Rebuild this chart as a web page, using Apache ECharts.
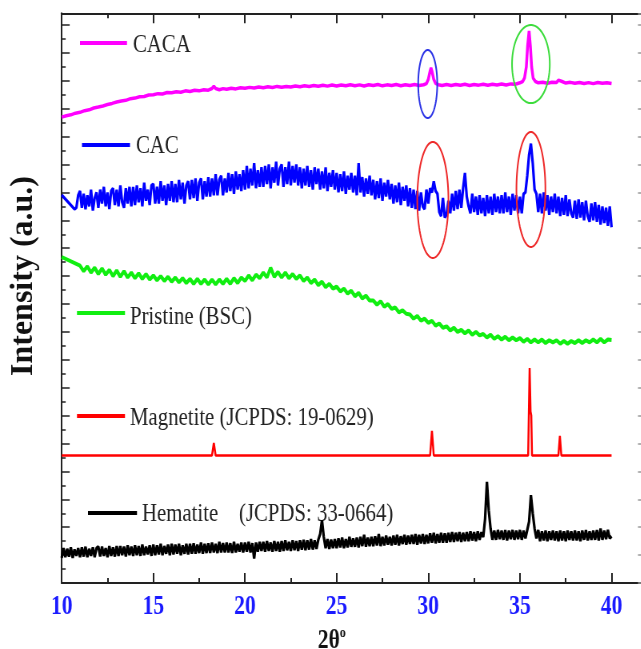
<!DOCTYPE html>
<html>
<head>
<meta charset="utf-8">
<script src="https://cdn.jsdelivr.net/npm/echarts@6/dist/echarts.min.js"></script>
<style>
  html, body { margin: 0; padding: 0; overflow: hidden; background: #fff; }
  /* the canvas is drawn wider and condensed horizontally, giving the narrow serif lettering */
  #chart { width: 802px; height: 649px; transform: scaleX(0.8); transform-origin: 0 0; }
</style>
</head>
<body>
<div id="chart"></div>
<script>
// ---------------- XRD patterns (2θ in degrees, stacked intensity in a.u.) ----------------

// CACA: smooth pattern with reflections near 30.2° and 35.5°
const cacaPoints = [
  [10.0,33.40],[10.25,33.50],[10.5,33.56],[10.75,33.68],[11.0,33.74],[11.25,33.86],[11.5,33.92],[11.75,34.05],
  [12.0,34.12],[12.25,34.20],[12.5,34.30],[12.75,34.38],[13.0,34.48],[13.25,34.55],[13.5,34.60],[13.75,34.72],
  [14.0,34.76],[14.25,34.86],[14.5,34.88],[14.75,34.98],[15.0,35.00],[15.25,35.08],[15.5,35.06],[15.75,35.16],
  [16.0,35.15],[16.25,35.22],[16.5,35.18],[16.75,35.28],[17.0,35.24],[17.25,35.32],[17.5,35.28],[17.75,35.36],
  [18.0,35.33],[18.2,35.45],[18.3,35.62],[18.4,35.45],[18.6,35.36],[18.8,35.44],[19.0,35.40],[19.25,35.47],
  [19.5,35.42],[19.75,35.50],[20.0,35.46],[20.25,35.53],[20.5,35.48],[20.75,35.55],[21.0,35.50],[21.25,35.57],
  [21.5,35.52],[21.75,35.60],[22.0,35.54],[22.25,35.60],[22.5,35.56],[22.75,35.63],[23.0,35.58],[23.25,35.65],
  [23.5,35.60],[23.75,35.66],[24.0,35.61],[24.25,35.68],[24.5,35.62],[24.75,35.70],[25.0,35.63],[25.25,35.70],
  [25.5,35.64],[25.75,35.72],[26.0,35.65],[26.25,35.71],[26.5,35.63],[26.75,35.72],[27.0,35.66],[27.25,35.73],
  [27.5,35.64],[27.75,35.71],[28.0,35.66],[28.25,35.73],[28.5,35.65],[28.75,35.72],[29.0,35.66],[29.25,35.73],
  [29.5,35.66],[29.75,35.72],[29.9,35.80],[30.0,36.10],[30.1,36.70],[30.15,36.92],[30.2,36.70],[30.3,36.10],
  [30.4,35.82],[30.55,35.72],[30.75,35.66],[31.0,35.73],[31.25,35.67],[31.5,35.74],[31.75,35.68],[32.0,35.75],
  [32.25,35.67],[32.5,35.74],[32.75,35.69],[33.0,35.76],[33.25,35.68],[33.5,35.75],[33.75,35.70],[34.0,35.77],
  [34.25,35.70],[34.5,35.78],[34.75,35.75],[35.0,35.86],[35.15,35.95],[35.25,36.20],[35.35,37.00],[35.42,38.50],
  [35.5,39.57],[35.57,38.50],[35.64,37.00],[35.72,36.20],[35.85,35.95],[36.0,35.86],[36.25,35.90],[36.5,35.82],
  [36.75,35.90],[37.0,35.88],[37.1,36.05],[37.18,36.15],[37.3,35.95],[37.5,35.84],[37.75,35.89],[38.0,35.82],
  [38.25,35.88],[38.5,35.81],[38.75,35.87],[39.0,35.80],[39.25,35.88],[39.5,35.82],[39.75,35.86],[40.0,35.80]
];

// CAC: noisy scan, 0.1° step from 10.8°, preceded by its first two readings
const cacLead = [[10.0, 27.81], [10.7, 26.80]];
const cacStart = 10.8;
const cacStep = 0.1;
const cacValues = [
  26.9, 27.8,
  28.1, 26.9, 27.9, 26.8, 27.8, 27.0, 28.2, 26.7, 27.6, 28.0,
  26.9, 28.2, 27.2, 28.4, 27.0, 28.0, 26.8, 28.1, 28.3, 27.1,
  28.2, 27.0, 28.5, 27.3, 26.9, 28.3, 27.2, 28.4, 27.0, 28.4,
  27.1, 28.5, 27.3, 28.3, 27.0, 28.7, 27.4, 28.2, 27.1, 28.5,
  28.6, 27.2, 28.4, 27.2, 28.8, 27.4, 28.5, 27.1, 28.6, 27.4,
  28.8, 27.3, 28.6, 27.3, 28.9, 27.5, 28.7, 27.2, 28.5, 28.8,
  27.5, 28.9, 27.6, 29.0, 27.4, 28.7, 29.0, 27.5, 28.8, 27.7,
  29.1, 27.7, 29.0, 27.8, 29.3, 27.8, 28.9, 29.2, 27.8, 29.0,
  28.0, 29.4, 28.1, 29.3, 27.9, 29.5, 28.2, 29.3, 28.1, 29.6,
  28.2, 29.9, 28.3, 29.7, 28.5, 30.1, 28.3, 29.6, 28.4, 29.8,
  28.4, 29.9, 28.6, 30.0, 28.3, 29.8, 28.7, 30.2, 28.5, 29.7,
  30.0, 28.4, 29.8, 28.6, 30.2, 28.5, 29.9, 28.7, 30.0, 28.5,
  29.8, 28.3, 29.7, 28.5, 29.9, 28.4, 29.6, 28.2, 29.8, 28.6,
  29.7, 28.2, 29.5, 28.3, 29.8, 28.1, 29.4, 28.4, 29.6, 28.2,
  29.4, 28.0, 29.3, 28.1, 29.5, 27.9, 29.2, 28.2, 29.4, 28.0,
  29.2, 27.8, 30.1, 28.0, 29.1, 27.7, 29.0, 27.9, 29.2, 27.8,
  28.9, 27.5, 28.8, 27.6, 29.0, 27.4, 28.7, 27.7, 28.9, 27.5,
  28.6, 27.2, 28.5, 27.3, 28.7, 27.1, 28.4, 27.4, 28.5, 27.0,
  28.3, 26.9, 28.2, 26.8, 28.1, 26.7, 28.0, 27.0, 26.8, 28.2,
  27.2, 28.3, 28.0, 28.8, 28.1, 27.9, 26.6, 26.3, 27.6, 26.2,
  26.4, 27.4, 26.5, 27.9, 26.7, 28.1, 26.8, 28.2, 26.9, 28.3,
  29.4, 27.7, 27.0, 26.5, 27.9, 26.6, 27.7, 26.4, 27.8, 26.5,
  27.6, 26.3, 27.8, 26.5, 27.7, 26.4, 27.9, 26.6, 27.7, 26.5,
  27.8, 26.5, 28.0, 26.6, 27.7, 26.4, 27.9, 26.7, 27.8, 26.5,
  27.7, 26.5, 27.9, 28.0, 29.2, 30.7, 31.5, 30.1, 28.2, 27.9,
  26.6, 27.9, 26.5, 28.0, 26.7, 27.8, 26.4, 27.7, 26.6, 27.9,
  26.5, 27.7, 26.3, 27.6, 26.4, 27.8, 26.3, 27.5, 26.5, 26.2,
  27.4, 26.1, 27.5, 26.2, 27.3, 26.0, 27.4, 26.3, 25.9, 27.2,
  26.0, 27.3, 25.9, 27.1, 25.7, 27.0, 25.8, 26.9, 25.6, 27.0,
  25.5
];

// Pristine (BSC): broad amorphous hump, 0.2° step from 11°
const pristineLead = [[10.0, 23.37]];
const pristineStart = 11.0;
const pristineStep = 0.2;
const pristineValues = [
  22.75, 22.35, 22.70, 22.25, 22.60,
  22.15, 22.55, 22.10, 22.45, 22.00,
  22.40, 21.95, 22.35, 21.90, 22.25,
  21.85, 22.20, 21.80, 22.15, 21.75,
  22.05, 21.70, 22.00, 21.65, 21.95,
  21.60, 21.90, 21.55, 21.85, 21.50,
  21.80, 21.45, 21.80, 21.45, 21.75,
  21.40, 21.75, 21.40, 21.75, 21.45,
  21.80, 21.45, 21.85, 21.50, 21.90,
  21.65, 22.05, 21.70, 22.10, 21.85,
  22.25, 21.90, 22.60, 21.95, 22.30,
  21.90, 22.25, 21.85, 22.15, 21.80,
  22.05, 21.65, 21.90, 21.50, 21.75,
  21.35, 21.60, 21.20, 21.45, 21.10,
  21.25, 20.90, 21.10, 20.75, 20.95,
  20.55, 20.80, 20.40, 20.60, 20.25,
  20.25, 19.95, 20.20, 19.80, 20.00,
  19.65, 19.75, 19.40, 19.55, 19.30,
  19.25, 18.95, 19.15, 18.80, 18.95,
  18.65, 18.80, 18.45, 18.60, 18.30,
  18.40, 18.10, 18.30, 18.00, 18.15,
  17.90, 18.10, 17.80, 18.00, 17.75,
  17.85, 17.60, 17.80, 17.50, 17.70,
  17.45, 17.65, 17.40, 17.60, 17.40,
  17.55, 17.30, 17.50, 17.25, 17.45,
  17.25, 17.45, 17.20, 17.40, 17.25,
  17.40, 17.15, 17.35, 17.15, 17.35,
  17.20, 17.40, 17.20, 17.40, 17.25,
  17.45, 17.25, 17.50, 17.25, 17.45,
  17.42
];

// Magnetite reference lines (JCPDS 19-0629)
const magnetitePoints = [
  [10.0,9.14],[18.2,9.14],[18.3,10.04],[18.4,9.14],
  [30.1,9.14],[30.2,10.90],[30.3,9.14],
  [35.45,9.14],[35.53,15.41],[35.58,12.30],[35.62,12.00],[35.66,9.14],
  [37.1,9.14],[37.18,10.54],[37.26,9.14],[40.0,9.14]
];

// Hematite (JCPDS 33-0664): noisy scan, 0.1° step from 10°
const hematiteStart = 10.0;
const hematiteStep = 0.1;
const hematiteValues = [
  1.80, 2.50, 1.85, 2.45, 1.90, 2.55, 1.80, 2.40, 1.95, 2.50,
  1.85, 2.55, 1.90, 2.60, 1.85, 2.45, 1.95, 2.55, 1.85, 2.50,
  2.60, 1.90, 2.60, 1.95, 2.50, 1.85, 2.65, 1.95, 2.55, 1.90,
  2.65, 1.95, 2.65, 2.00, 2.60, 1.90, 2.70, 2.00, 2.60, 1.95,
  2.70, 2.00, 2.65, 1.95, 2.75, 2.00, 2.60, 2.05, 2.70, 1.95,
  2.75, 2.00, 2.70, 2.05, 2.80, 2.00, 2.65, 2.10, 2.75, 2.00,
  2.80, 2.05, 2.75, 2.10, 2.80, 2.00, 2.70, 2.10, 2.80, 2.05,
  2.80, 2.10, 2.85, 2.10, 2.75, 2.15, 2.90, 2.10, 2.80, 2.15,
  2.85, 2.15, 2.90, 2.20, 2.80, 2.15, 2.95, 2.20, 2.85, 2.20,
  2.90, 2.20, 2.85, 2.15, 2.95, 2.20, 2.80, 2.25, 2.90, 2.20,
  2.90, 2.25, 2.95, 2.20, 2.85, 1.75, 2.90, 2.25, 2.95, 2.30,
  2.95, 2.25, 3.00, 2.30, 2.90, 2.25, 3.00, 2.30, 2.95, 2.25,
  3.00, 2.30, 3.05, 2.35, 2.95, 2.30, 3.05, 2.35, 3.00, 2.30,
  3.05, 2.40, 3.10, 2.35, 3.05, 2.40, 3.15, 2.40, 3.05, 2.45,
  3.10, 3.50, 4.50, 3.30, 2.50, 3.15, 2.45, 3.10, 2.50, 3.15,
  2.50, 3.20, 2.55, 3.25, 2.50, 3.15, 2.55, 3.30, 2.60, 3.20,
  2.60, 3.25, 2.55, 3.30, 2.65, 3.45, 2.60, 3.25, 2.65, 3.30,
  2.65, 3.35, 2.70, 3.50, 2.65, 3.30, 2.70, 3.40, 2.75, 3.30,
  2.70, 3.40, 2.75, 3.45, 2.70, 3.35, 2.80, 3.45, 2.75, 3.40,
  2.80, 3.45, 2.80, 3.50, 2.75, 3.45, 2.85, 3.50, 2.80, 3.45,
  2.85, 3.55, 2.90, 3.60, 2.85, 3.50, 2.90, 3.60, 2.90, 3.55,
  2.90, 3.60, 2.95, 3.65, 2.95, 3.60, 3.00, 3.65, 2.95, 3.60,
  3.00, 3.65, 3.00, 3.70, 3.05, 3.65, 3.00, 3.70, 3.10, 3.65,
  3.30, 4.60, 7.25, 5.20, 3.90, 3.10, 3.75, 3.10, 3.80, 3.15,
  3.75, 3.10, 3.80, 3.05, 3.75, 3.15, 3.80, 3.10, 3.75, 3.15,
  3.80, 3.10, 3.75, 3.20, 3.80, 4.40, 6.30, 5.00, 3.90, 3.20,
  3.80, 3.00, 3.70, 3.05, 3.75, 3.00, 3.70, 3.10, 3.75, 3.05,
  3.70, 3.00, 3.75, 3.05, 3.70, 3.00, 3.75, 3.10, 3.70, 3.05,
  3.75, 3.05, 3.70, 3.00, 3.75, 3.10, 3.80, 3.05, 3.70, 3.10,
  3.75, 3.10, 3.80, 3.05, 3.90, 3.10, 3.75, 3.15, 3.80, 3.20,
  3.35
];

// Highlighted reflections: [2θ centre, intensity centre, 2θ half-width, intensity half-height]
const highlightRings = [
  [29.97, 35.77, 0.52, 2.44],
  [35.60, 37.20, 1.03, 2.80],
  [30.25, 27.46, 0.85, 4.16],
  [35.60, 28.21, 0.79, 4.12]
];
const ringColors = ['#2c34e6', '#3ddc3d', '#ee2a2a', '#ee2a2a'];

const xTicks = [10, 15, 20, 25, 30, 35, 40];

// ---------------- helpers ----------------
const scan = (start, step, vals) => vals.map((v, i) => [+(start + i * step).toFixed(2), v]);

const cacData = cacLead.concat(scan(cacStart, cacStep, cacValues));
const pristineData = pristineLead.concat(scan(pristineStart, pristineStep, pristineValues));
const hematiteData = scan(hematiteStart, hematiteStep, hematiteValues);

// ---------------- layout (screen px, converted to canvas px) ----------------
const SX = 0.8;
const cx = v => v / SX;
const SERIF = '"Liberation Serif", "Times New Roman", serif';
const AXIS_COLOR = '#222';

const legendEntries = [
  { label: 'CACA', color: '#ff00ff', x1: 80, x2: 127, y: 43, tx: 133, ty: 45 },
  { label: 'CAC', color: '#0000ff', x1: 82, x2: 130, y: 145, tx: 136, ty: 146 },
  { label: 'Pristine (BSC)', color: '#11ee11', x1: 77, x2: 125, y: 313, tx: 130, ty: 317 },
  { label: 'Magnetite (JCPDS: 19-0629)', color: '#ff0000', x1: 77, x2: 125, y: 416, tx: 130, ty: 418 },
  { label: 'Hematite', color: '#000000', x1: 88, x2: 137, y: 513, tx: 142, ty: 514 }
];

const graphics = [];
legendEntries.forEach(e => {
  graphics.push({
    type: 'line', silent: true,
    shape: { x1: cx(e.x1), y1: e.y, x2: cx(e.x2), y2: e.y },
    style: { stroke: e.color, lineWidth: 4 }
  });
  graphics.push({
    type: 'text', silent: true, x: cx(e.tx), y: e.ty,
    style: { text: e.label, fontSize: 26, fontFamily: SERIF, fill: '#222', align: 'left', verticalAlign: 'middle' }
  });
});
graphics.push({
  type: 'text', silent: true, x: cx(239), y: 514,
  style: { text: '(JCPDS: 33-0664)', fontSize: 26, fontFamily: SERIF, fill: '#222', align: 'left', verticalAlign: 'middle' }
});
// vertical axis title, kept at natural proportions
graphics.push({
  type: 'text', silent: true, x: cx(24), y: 276, rotation: Math.PI / 2, scaleY: 1 / SX,
  style: { text: 'Intensity (a.u.)', fontSize: 32, fontWeight: 'bold', fontFamily: SERIF, fill: '#111', align: 'center', verticalAlign: 'middle' }
});

const X_MIN = 10, X_MAX = 41.66, Y_MIN = 0, Y_MAX = 40.84;

const tickStyle = { color: AXIS_COLOR, width: 2 };
const baseX = {
  type: 'value', min: X_MIN, max: X_MAX, interval: 5,
  axisLine: { show: true, onZero: false, lineStyle: { color: AXIS_COLOR, width: 2 } },
  axisTick: { show: true, inside: true, length: 10, lineStyle: tickStyle },
  minorTick: { show: true, splitNumber: 2, length: 5, lineStyle: tickStyle },
  splitLine: { show: false }
};

const option = {
  animation: false,
  backgroundColor: '#fff',
  grid: {
    left: cx(61.7), top: 13.3, width: cx(642 - 61.7), height: 583 - 13.3,
    containLabel: false, outerBoundsMode: 'none'
  },
  xAxis: [
    Object.assign({}, baseX, {
      position: 'bottom',
      axisLabel: {
        show: true, margin: 11, color: '#1a1aff', fontFamily: SERIF, fontWeight: 'bold', fontSize: 27,
        showMaxLabel: false,
        formatter: v => (xTicks.indexOf(v) >= 0 ? String(v) : '')
      },
      name: '{a|2θ}{s|o}',
      nameLocation: 'middle',
      nameGap: 40,
      nameTextStyle: {
        padding: [0, 50, 0, 0],
        rich: {
          a: { fontSize: 27, fontWeight: 'bold', fontFamily: SERIF, color: '#111', lineHeight: 30 },
          s: { fontSize: 15, fontWeight: 'bold', fontFamily: SERIF, color: '#111', verticalAlign: 'top', lineHeight: 16 }
        }
      }
    }),
    Object.assign({}, baseX, { position: 'top', axisLabel: { show: false } })
  ],
  yAxis: [
    {
      type: 'value', position: 'left', min: Y_MIN, max: Y_MAX, interval: 2,
      axisLine: { show: true, onZero: false, lineStyle: { color: AXIS_COLOR, width: 2 } },
      axisTick: { show: true, inside: true, length: 10, lineStyle: { color: AXIS_COLOR, width: 1.5 } },
      minorTick: { show: true, splitNumber: 2, length: 5, lineStyle: { color: AXIS_COLOR, width: 1.5 } },
      axisLabel: { show: false },
      splitLine: { show: false }
    },
    {
      type: 'value', position: 'right', min: Y_MIN, max: Y_MAX, interval: 2,
      axisLine: { show: false },
      axisTick: { show: true, inside: true, length: 5, lineStyle: { color: '#999', width: 1.5 } },
      axisLabel: { show: false },
      splitLine: { show: false }
    }
  ],
  graphic: graphics,
  series: [
    { name: 'Hematite', type: 'line', data: hematiteData, showSymbol: false, symbol: 'none',
      lineStyle: { color: '#000', width: 3.2 }, z: 2 },
    { name: 'Magnetite', type: 'line', data: magnetitePoints, showSymbol: false, symbol: 'none',
      lineStyle: { color: '#ff0000', width: 2.5 }, z: 2 },
    { name: 'Pristine (BSC)', type: 'line', data: pristineData, showSymbol: false, symbol: 'none',
      lineStyle: { color: '#11ee11', width: 4 }, z: 2 },
    { name: 'CAC', type: 'line', data: cacData, showSymbol: false, symbol: 'none',
      lineStyle: { color: '#0000ff', width: 3.2 }, z: 2 },
    { name: 'CACA', type: 'line', data: cacaPoints, showSymbol: false, symbol: 'none',
      lineStyle: { color: '#ff00ff', width: 3.5 }, z: 2 },
    {
      name: 'rings', type: 'custom', silent: true, z: 5,
      data: highlightRings,
      renderItem(params, api) {
        const c = api.coord([api.value(0), api.value(1)]);
        const rx = api.size([api.value(2), 0])[0];
        const ry = api.size([0, api.value(3)])[1];
        const pts = [];
        for (let k = 0; k < 90; k++) {
          const a = (k / 90) * Math.PI * 2;
          pts.push([c[0] + rx * Math.cos(a), c[1] + ry * Math.sin(a)]);
        }
        return {
          type: 'polygon',
          shape: { points: pts },
          style: { fill: 'none', stroke: ringColors[params.dataIndex], lineWidth: 2 }
        };
      }
    }
  ]
};

const chart = echarts.init(document.getElementById('chart'), null, { renderer: 'canvas' });
chart.setOption(option);
</script>
</body>
</html>
